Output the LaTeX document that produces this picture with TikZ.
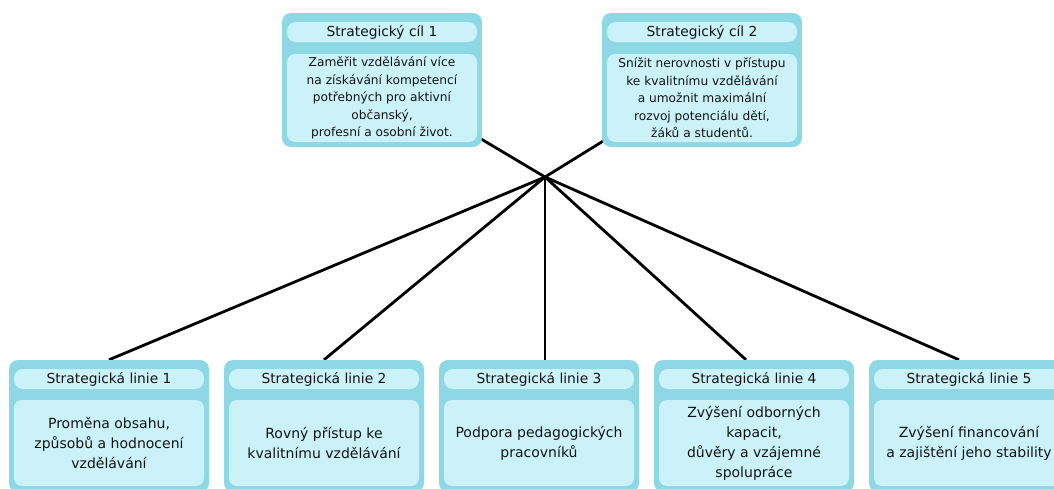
\documentclass[tikz,border=0pt]{standalone}
\usepackage{fontspec}
\setmainfont{DejaVu Sans}
\usetikzlibrary{backgrounds}
\definecolor{frameblue}{RGB}{142,216,229}
\definecolor{fillblue}{RGB}{203,242,249}
\definecolor{ink}{RGB}{20,20,20}
\tikzset{
  frame/.style={fill=frameblue, draw=none, rounded corners=9pt, minimum width=200pt, inner sep=0pt},
  pill/.style={fill=fillblue, draw=none, rounded corners=9pt, minimum width=190pt, inner sep=0pt,
    text=ink, font=\fontsize{13.8}{16}\selectfont},
  goalbody/.style={fill=fillblue, draw=none, rounded corners=8pt, minimum width=190pt, minimum height=88pt,
    inner sep=0pt, align=center, text=ink, font=\fontsize{12.2}{17.5}\selectfont},
  linebody/.style={fill=fillblue, draw=none, rounded corners=8pt, minimum width=190pt, minimum height=86pt,
    inner sep=0pt, align=center, text=ink, font=\fontsize{14}{20}\selectfont},
  link/.style={line width=2.8pt, black}
}
\begin{document}
\begin{tikzpicture}[x=1pt, y=-1pt]
\useasboundingbox (0,0) rectangle (1054,488);

% strategic goals
\node[frame, minimum height=134pt] (c1) at (382,80) {};
\node[pill, minimum height=20pt] (c1h) at (382,32) {Strategický cíl 1};
\node[goalbody] (c1b) at (382,98) {Zaměřit vzdělávání více\\na získávání kompetencí\\potřebných pro aktivní\\občanský,\\profesní a osobní život.};

\node[frame, minimum height=134pt] (c2) at (702,80) {};
\node[pill, minimum height=20pt] (c2h) at (702,32) {Strategický cíl 2};
\node[goalbody] (c2b) at (702,98) {Snížit nerovnosti v přístupu\\ke kvalitnímu vzdělávání\\a umožnit maximální\\rozvoj potenciálu dětí,\\žáků a studentů.};

% strategic lines
\foreach \n/\x/\txt in {
  1/109/{Proměna obsahu,\\způsobů a hodnocení\\vzdělávání},
  2/324/{Rovný přístup ke\\kvalitnímu vzdělávání},
  3/539/{Podpora pedagogických\\pracovníků},
  4/754/{Zvýšení odborných\\kapacit,\\důvěry a vzájemné\\spolupráce},
  5/969/{Zvýšení financování\\a zajištění jeho stability}}{
  \node[frame, minimum height=132pt] (b\n) at (\x,426) {};
  \node[pill, minimum height=20pt] (b\n h) at (\x,379) {Strategická linie \n};
  \node[linebody] (b\n b) at (\x,443) {\txt};
}

\coordinate (hub) at (545,177);

\begin{scope}[on background layer]
  \fill[white] (0,0) rectangle (1054,488);
  \draw[link] (hub) -- (c1.center);
  \draw[link] (hub) -- (c2.center);
  \draw[link] (hub) -- (b1.north);
  \draw[link] (hub) -- (b2.north);
  \draw[link] (hub) -- (hub |- b3.north);
  \draw[link] (hub) -- ([xshift=-8pt]b4.north);
  \draw[link] (hub) -- ([xshift=-10pt]b5.north);
\end{scope}
\end{tikzpicture}
\end{document}
